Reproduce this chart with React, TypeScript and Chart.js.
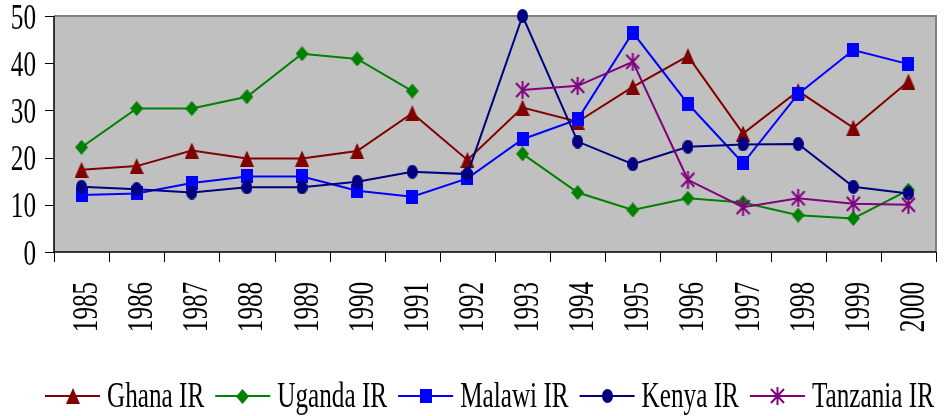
import React, { useEffect, useRef } from 'react';
import { Chart, registerables } from 'chart.js';

Chart.register(...registerables);

const years = ['1985', '1986', '1987', '1988', '1989', '1990', '1991', '1992', '1993', '1994', '1995', '1996', '1997', '1998', '1999', '2000'];
const ghanaIR = [17.4, 18.2, 21.5, 19.8, 19.8, 21.4, 29.4, 19.5, 30.6, 27.6, 35.0, 41.5, 25.1, 34.1, 26.3, 36.1];
const ugandaIR = [22.2, 30.4, 30.4, 32.9, 42.0, 40.9, 34.1, null, 20.8, 12.6, 8.9, 11.4, 10.5, 7.8, 7.1, 13.1];
const malawiIR = [12.1, 12.4, 14.6, 16.0, 16.0, 13.0, 11.7, 15.6, 23.9, 28.1, 46.5, 31.4, 18.8, 33.5, 42.8, 39.8];
const kenyaIR = [13.8, 13.3, 12.6, 13.7, 13.7, 14.9, 17.0, 16.5, 50.0, 23.4, 18.6, 22.3, 22.8, 22.9, 13.8, 12.4];
const tanzaniaIR = [null, null, null, null, null, null, null, null, 34.3, 35.2, 40.3, 15.3, 9.5, 11.4, 10.2, 10.0];
const yTickValues = [0, 10, 20, 30, 40, 50];
const yTickLabels = ['0', '10', '20', '30', '40', '50'];
const seriesNames = ['Ghana IR', 'Uganda IR', 'Malawi IR', 'Kenya IR', 'Tanzania IR'];
const seriesColors = ['#800000', '#008000', '#0000FF', '#000080', '#800080'];
const seriesMarkers = ['triangle', 'diamond', 'square', 'circle', 'star'];

const FONT = '36px "Liberation Serif"';
const SX = 0.7;

function makeMarker(kind: string, color: string): HTMLCanvasElement {
  const c = document.createElement('canvas');
  let w = 12, h = 14;
  if (kind === 'triangle') { w = 14; h = 16; }
  else if (kind === 'diamond') { w = 13; h = 15; }
  else if (kind === 'square') { w = 12; h = 14; }
  else if (kind === 'circle') { w = 11; h = 14; }
  else if (kind === 'star') { w = 15; h = 18; }
  c.width = w; c.height = h;
  const g = c.getContext('2d')!;
  g.fillStyle = color;
  g.strokeStyle = color;
  g.beginPath();
  if (kind === 'triangle') {
    g.moveTo(w / 2, 0); g.lineTo(w, h); g.lineTo(0, h); g.closePath(); g.fill();
  } else if (kind === 'diamond') {
    g.moveTo(w / 2, 0); g.lineTo(w, h / 2); g.lineTo(w / 2, h); g.lineTo(0, h / 2); g.closePath(); g.fill();
  } else if (kind === 'square') {
    g.fillRect(0, 0, w, h);
  } else if (kind === 'circle') {
    g.ellipse(w / 2, h / 2, w / 2, h / 2, 0, 0, Math.PI * 2); g.fill();
  } else if (kind === 'star') {
    g.lineWidth = 2;
    g.moveTo(w / 2, 0); g.lineTo(w / 2, h);
    g.moveTo(1, 2); g.lineTo(w - 1, h - 2);
    g.moveTo(w - 1, 2); g.lineTo(1, h - 2);
    g.stroke();
  }
  return c;
}

export default function App() {
  const ref = useRef<HTMLCanvasElement | null>(null);

  useEffect(() => {
    if (!ref.current) return;
    const markers = seriesMarkers.map((k, i) => makeMarker(k, seriesColors[i]));
    const dataSets = [ghanaIR, ugandaIR, malawiIR, kenyaIR, tanzaniaIR];

    const chromePlugin = {
      id: 'chrome',
      beforeDatasetsDraw(chart: any) {
        const { ctx, chartArea: a, scales } = chart;
        const ys = scales.y;
        const xs = scales.x;
        ctx.save();
        ctx.fillStyle = '#C0C0C0';
        ctx.fillRect(a.left, a.top, a.right - a.left, a.bottom - a.top);
        ctx.strokeStyle = '#808080';
        ctx.lineWidth = 2;
        ctx.beginPath();
        ctx.moveTo(a.left, a.top);
        ctx.lineTo(a.right, a.top);
        ctx.lineTo(a.right, a.bottom);
        ctx.stroke();
        ctx.strokeStyle = '#000000';
        ctx.lineWidth = 1.5;
        ctx.beginPath();
        ctx.moveTo(a.left, a.top);
        ctx.lineTo(a.left, a.bottom);
        ctx.lineTo(a.right, a.bottom);
        ctx.stroke();
        ctx.lineWidth = 1;
        ctx.beginPath();
        yTickValues.forEach((v) => {
          const y = Math.round(ys.getPixelForValue(v)) + 0.5;
          ctx.moveTo(a.left - 9, y);
          ctx.lineTo(a.left, y);
        });
        const n = years.length;
        for (let i = 0; i <= n; i++) {
          let x;
          if (i === 0) x = a.left;
          else if (i === n) x = a.right;
          else x = (xs.getPixelForValue(i - 1) + xs.getPixelForValue(i)) / 2;
          x = Math.round(x) + 0.5;
          ctx.moveTo(x, a.bottom);
          ctx.lineTo(x, a.bottom + 10);
        }
        ctx.stroke();
        ctx.restore();
      },
      afterDraw(chart: any) {
        const { ctx, chartArea: a, scales } = chart;
        const ys = scales.y;
        const xs = scales.x;
        ctx.save();
        ctx.fillStyle = '#000000';
        ctx.font = FONT;
        ctx.textBaseline = 'alphabetic';
        ctx.textAlign = 'right';
        yTickValues.forEach((v, i) => {
          const y = ys.getPixelForValue(v);
          ctx.save();
          ctx.translate(a.left - 18, y + 12.5);
          ctx.scale(SX, 1);
          ctx.fillText(yTickLabels[i], 0, 0);
          ctx.restore();
        });
        ctx.textAlign = 'center';
        years.forEach((lab, i) => {
          const x = xs.getPixelForValue(i);
          ctx.save();
          ctx.translate(x + 15.5, a.bottom + 55);
          ctx.rotate(-Math.PI / 2);
          ctx.scale(SX, 1);
          ctx.fillText(lab, 0, 0);
          ctx.restore();
        });
        ctx.textAlign = 'left';
        let lx = 45;
        const ly = 396;
        seriesNames.forEach((name, i) => {
          ctx.strokeStyle = seriesColors[i];
          ctx.lineWidth = 2;
          ctx.beginPath();
          ctx.moveTo(lx, ly);
          ctx.lineTo(lx + 55, ly);
          ctx.stroke();
          const m = markers[i];
          ctx.drawImage(m, Math.round(lx + 27.5 - m.width / 2), Math.round(ly - m.height / 2));
          const tx = lx + 62;
          ctx.save();
          ctx.translate(tx, 407);
          ctx.scale(SX, 1);
          ctx.fillText(name, 0, 0);
          ctx.restore();
          const tw = ctx.measureText(name).width * SX;
          lx = tx + tw + 11;
        });
        ctx.restore();
      },
    };

    let chart: any = null;
    let cancelled = false;
    const build = () => {
      if (cancelled || !ref.current) return;
      chart = new Chart(ref.current, {
        type: 'line',
        data: {
          labels: years,
          datasets: dataSets.map((d, i) => ({
            label: seriesNames[i],
            data: d,
            borderColor: seriesColors[i],
            backgroundColor: seriesColors[i],
            borderWidth: 2,
            pointStyle: markers[i] as any,
            pointRadius: 8,
            pointHoverRadius: 8,
            tension: 0,
            spanGaps: false,
            fill: false,
            clip: false as any,
            order: seriesNames.length - i,
          })),
        },
        options: {
          animation: false,
          responsive: true,
          maintainAspectRatio: false,
          events: [],
          layout: { padding: { left: 54, top: 16, right: 10, bottom: 164 } },
          plugins: {
            legend: { display: false },
            tooltip: { enabled: false },
            title: { display: false },
          },
          scales: {
            x: { type: 'category', offset: true, display: false },
            y: { min: 0, max: 50, display: false },
          },
        },
        plugins: [chromePlugin],
      });
    };
    const fonts: any = (document as any).fonts;
    if (fonts && fonts.load) {
      fonts.load(FONT, 'Ghana IR 1985').then(build, build);
    } else {
      build();
    }
    return () => {
      cancelled = true;
      if (chart) chart.destroy();
    };
  }, []);

  return (
    <div style={{ position: 'fixed', left: 0, top: 0, width: 946, height: 416, background: '#ffffff', fontFamily: '"Liberation Serif"' }}>
      <span style={{ position: 'absolute', left: -9999, top: 0, fontSize: 36 }}>Ghana IR 1985</span>
      <canvas ref={ref} />
    </div>
  );
}
